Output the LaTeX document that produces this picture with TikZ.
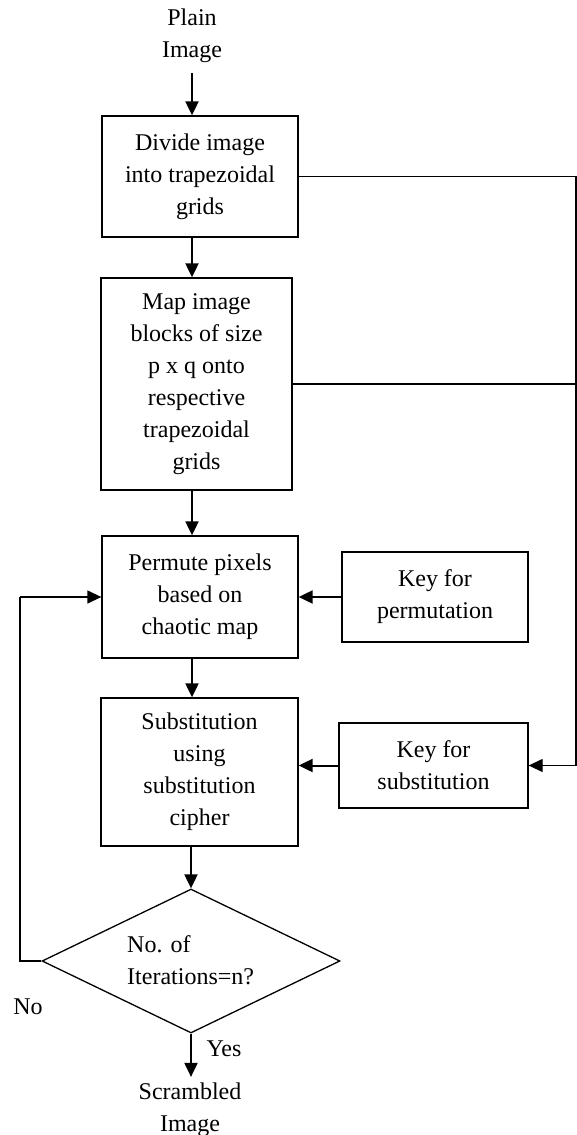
\documentclass[tikz,border=0pt]{standalone}
\usepackage{fontspec}
\setmainfont{Liberation Serif}
\usetikzlibrary{shapes.geometric,arrows.meta}

\begin{document}
\begin{tikzpicture}[x=1pt,y=-1pt,
  every node/.style={font=\fontsize{24}{32}\selectfont, inner sep=0pt, align=center},
  box/.style={draw, line width=1.3pt},
  decision/.style={draw, diamond, line width=1.3pt, minimum width=298pt, minimum height=144pt},
  arr/.style={line width=2pt, -{Triangle[length=14pt,width=13pt]}},
  wire/.style={line width=1.3pt}]
  \useasboundingbox (0,0) rectangle (577,1135);
  % ---- main column ----
  \node (plain) at (192,36) {Plain\\Image};
  \node[box, minimum width=196pt, minimum height=121pt] (divide) at (200,176.5)
    {Divide image\\into trapezoidal\\grids};
  \node[box, minimum width=191pt, minimum height=212pt] (map) at (196.5,384)
    {Map image\\blocks of size\\p x q onto\\respective\\trapezoidal\\grids};
  \node[box, minimum width=196pt, minimum height=122pt] (permute) at (200,597)
    {Permute pixels\\based on\\chaotic map};
  \node[box, minimum width=197pt, minimum height=148pt] (subst) at (199.5,772)
    {Substitution\\using\\substitution\\cipher};
  \node[decision] (iter) at (191,961) {};
  \node[anchor=west, align=left] (itertext) at (127,960) {No. of\\Iterations=n?};
  \node (scrambled) at (190,1110) {Scrambled\\Image};
  \node (yes) at (224,1049) {Yes};
  \node (no) at (28,1007) {No};
  % ---- key boxes ----
  \node[box, minimum width=186pt, minimum height=90pt] (keyperm) at (435,597)
    {Key for\\permutation};
  \node[box, minimum width=189pt, minimum height=85pt] (keysub) at (433.5,765.5)
    {Key for\\substitution};
  \coordinate (rail) at (576,0);
  \coordinate (loop) at (20,0);
  % ---- connectors ----
  \draw[arr, shorten <=10pt] (plain.south) -- (plain.south |- divide.north);
  \draw[arr] (plain |- divide.south) -- (plain |- map.north);
  \draw[arr] (plain |- map.south) -- (plain |- permute.north);
  \draw[arr] (plain |- permute.south) -- (plain |- subst.north);
  \draw[arr] (iter.north |- subst.south) -- (iter.north);
  \draw[arr, shorten >=6pt] (iter.south) -- (iter.south |- scrambled.north);
  \draw[arr] (keyperm.west) -- (permute.east);
  \draw[arr] (keysub.west) -- (keysub.west -| subst.east);
  \draw[wire] (map.east) -- (map.east -| rail);
  \draw[wire] (divide.east) -- (divide.east -| rail) -- (rail |- keysub.east);
  \draw[arr, line width=1.3pt] (rail |- keysub.east) -- (keysub.east);
  \draw[wire] (iter.west) -- (iter.west -| loop) -- (loop |- permute.west);
  \draw[arr, line width=1.3pt] (loop |- permute.west) -- (permute.west);
\end{tikzpicture}
\end{document}
